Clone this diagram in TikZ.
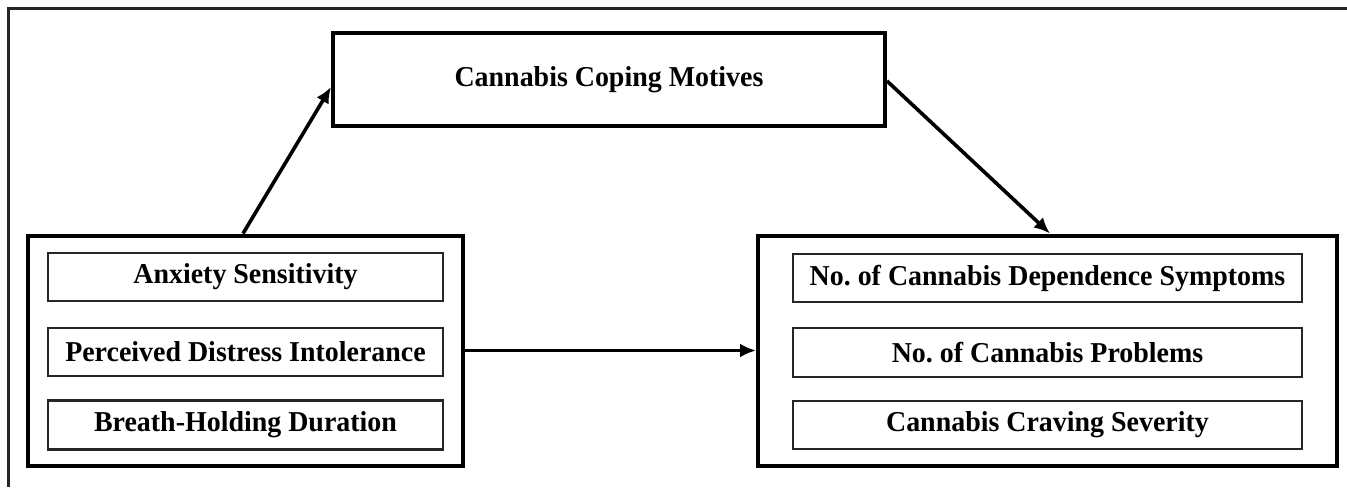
\documentclass[tikz,border=0pt]{standalone}
\usepackage{fontspec}
\setmainfont{Liberation Serif}
\newfontfamily\condserif[FakeStretch=0.97]{Liberation Serif}
\usetikzlibrary{arrows.meta}
\begin{document}
\begin{tikzpicture}[x=0.5pt,y=-0.5pt,
  groupbox/.style={draw=black, line width=2pt, inner sep=0pt, fill=white},
  itembox/.style={draw=black!85, line width=1.2pt, inner sep=0pt, align=center, font=\condserif\fontsize{14.4pt}{16pt}\selectfont\bfseries},
  topbox/.style={draw=black, line width=2pt, inner sep=0pt, align=center, font=\condserif\fontsize{14.4pt}{16pt}\selectfont\bfseries},
  conn/.style={line width=1.8pt, -{Latex[length=8pt,width=7pt]}}]
\useasboundingbox (0,0) rectangle (1347,487);
\fill[white] (0,0) rectangle (1347,487);
\coordinate (fbl) at (8,487);
\coordinate (ftl) at (8,8);
\coordinate (ftr) at (1347,8);
\draw[line width=1.5pt, black!85] (fbl) -- (ftl) -- (ftr);

\node[topbox, minimum width=552pt*0.5, minimum height=93pt*0.5] (ccm) at (609,79.5) {Cannabis Coping Motives};

\node[groupbox, minimum width=435pt*0.5, minimum height=230pt*0.5] (left) at (245.5,350.5) {};
\node[itembox, minimum width=395pt*0.5, minimum height=48pt*0.5] (as) at (245.5,277) {Anxiety Sensitivity};
\node[itembox, minimum width=395pt*0.5, minimum height=48pt*0.5] (pdi) at (245.5,352) {Perceived Distress Intolerance};
\node[itembox, minimum width=395pt*0.5, minimum height=49pt*0.5] (bhd) at (245.5,425) {Breath-Holding Duration};

\node[groupbox, minimum width=579pt*0.5, minimum height=230pt*0.5] (right) at (1047.5,350.5) {};
\node[itembox, minimum width=509pt*0.5, minimum height=48pt*0.5] (dep) at (1047.5,278) {No.\ of Cannabis Dependence Symptoms};
\node[itembox, minimum width=509pt*0.5, minimum height=49pt*0.5] (prob) at (1047.5,352.5) {No.\ of Cannabis Problems};
\node[itembox, minimum width=509pt*0.5, minimum height=48pt*0.5] (crav) at (1047.5,425) {Cannabis Craving Severity};

\draw[conn] (left.north -| 243,0) -- (ccm.west |- 0,87);
\draw[conn] (ccm.east |- 0,81) -- (right.north -| 1050,0);
\draw[conn] (left.east) -- (right.west);
\end{tikzpicture}
\end{document}
